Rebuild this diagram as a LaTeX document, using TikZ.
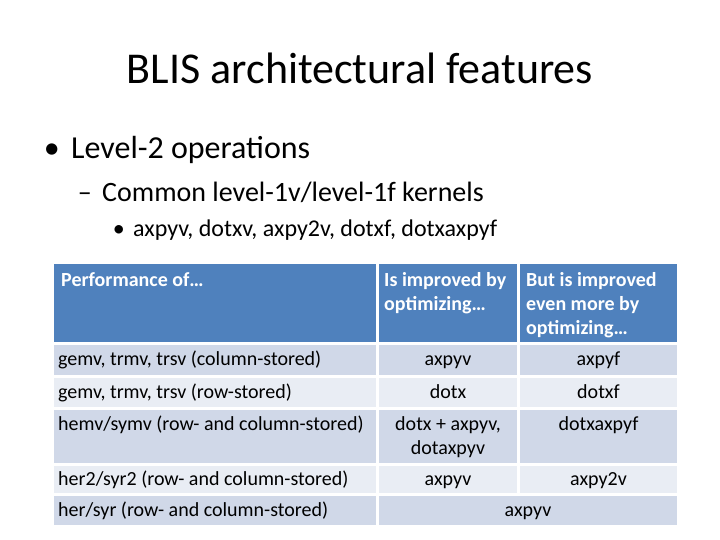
\documentclass[tikz,border=0pt]{standalone}
\usepackage{fontspec}
\setmainfont{Carlito}
\usetikzlibrary{positioning}
\definecolor{hdblue}{HTML}{4F81BD}
\definecolor{rowdark}{HTML}{D0D8E8}
\definecolor{rowlight}{HTML}{E9EDF4}
\tikzset{
  cell/.style={anchor=north west,inner sep=0pt,outer sep=0pt},
  celltext/.style={font=\fontsize{20}{24}\selectfont,inner sep=0pt,anchor=base west,align=left},
  midtext/.style={font=\fontsize{20}{24}\selectfont,inner sep=0pt,anchor=base,align=center},
  hdtext/.style={celltext,font=\fontsize{20}{24}\selectfont\bfseries,text=white}
}
\newcommand{\tabcell}[6]{% name, x, y, w, h, colour
  \node[cell,fill=#6,minimum width=#4pt,minimum height=#5pt] (#1) at (#2,#3) {};}
\begin{document}
\begin{tikzpicture}[x=1pt,y=-1pt]
  \useasboundingbox (0,0) rectangle (720,540);
  % title and bullets
  \node[font=\fontsize{44}{50}\selectfont] (title) at (360,68) {BLIS architectural features};
  \node[font=\fontsize{32}{36}\selectfont,anchor=west,inner sep=0pt] (lev2) at (71,150) {Level-2 operations};
  \node[font=\fontsize{32}{36}\selectfont,anchor=base east,inner sep=0pt] (dot1) at ([xshift=-11pt]lev2.base west) {\textbullet};
  \node[font=\fontsize{28}{32}\selectfont,anchor=west,inner sep=0pt] (kern) at (102,192) {Common level-1v/level-1f kernels};
  \node[font=\fontsize{28}{32}\selectfont,anchor=base east,inner sep=0pt] (dash2) at ([xshift=-10pt]kern.base west) {\textendash};
  \node[font=\fontsize{24}{28}\selectfont,anchor=west,inner sep=0pt] (names) at (133,230) {axpyv, dotxv, axpy2v, dotxf, dotxaxpyf};
  \node[font=\fontsize{24}{28}\selectfont,anchor=base east,inner sep=0pt] (dot3) at ([xshift=-8pt]names.base west) {\textbullet};
  % header row
  \tabcell{h1}{54}{264}{322}{78}{hdblue}
  \tabcell{h2}{379}{264}{138}{78}{hdblue}
  \tabcell{h3}{520}{264}{157}{78}{hdblue}
  % body rows
  \tabcell{a1}{54}{345}{322}{30}{rowdark}
  \tabcell{a2}{379}{345}{138}{30}{rowdark}
  \tabcell{a3}{520}{345}{157}{30}{rowdark}
  \tabcell{b1c}{54}{378}{322}{29}{rowlight}
  \tabcell{b2c}{379}{378}{138}{29}{rowlight}
  \tabcell{b3c}{520}{378}{157}{29}{rowlight}
  \tabcell{c1}{54}{410}{322}{53}{rowdark}
  \tabcell{c2}{379}{410}{138}{53}{rowdark}
  \tabcell{c3}{520}{410}{157}{53}{rowdark}
  \tabcell{d1}{54}{466}{322}{27}{rowlight}
  \tabcell{d2}{379}{466}{138}{27}{rowlight}
  \tabcell{d3}{520}{466}{157}{27}{rowlight}
  \tabcell{e1}{54}{496}{322}{29}{rowdark}
  \tabcell{e2}{379}{496}{298}{29}{rowdark}
  % texts (base = last line)
  \node[hdtext] at ([xshift=7pt,yshift=-22pt]h1.north west) {Performance of…};
  \node[hdtext] at ([xshift=5pt,yshift=-46pt]h2.north west) {Is improved by\\optimizing…};
  \node[hdtext] at ([xshift=6pt,yshift=-70pt]h3.north west) {But is improved\\even more by\\optimizing…};
  \node[celltext] at ([xshift=4pt,yshift=-20pt]a1.north west) {gemv, trmv, trsv (column-stored)};
  \node[midtext] at ([yshift=-20pt]a2.north) {axpyv};
  \node[midtext] at ([yshift=-20pt]a3.north) {axpyf};
  \node[celltext] at ([xshift=4pt,yshift=-20pt]b1c.north west) {gemv, trmv, trsv (row-stored)};
  \node[midtext] at ([yshift=-20pt]b2c.north) {dotx};
  \node[midtext] at ([yshift=-20pt]b3c.north) {dotxf};
  \node[celltext] at ([xshift=4pt,yshift=-20pt]c1.north west) {hemv/symv (row- and column-stored)};
  \node[midtext] at ([yshift=-44pt]c2.north) {dotx + axpyv,\\dotaxpyv};
  \node[midtext] at ([yshift=-20pt]c3.north) {dotxaxpyf};
  \node[celltext] at ([xshift=4pt,yshift=-19pt]d1.north west) {her2/syr2 (row- and column-stored)};
  \node[midtext] at ([yshift=-19pt]d2.north) {axpyv};
  \node[midtext] at ([yshift=-19pt]d3.north) {axpy2v};
  \node[celltext] at ([xshift=4pt,yshift=-20pt]e1.north west) {her/syr (row- and column-stored)};
  \node[midtext] at ([yshift=-20pt]e2.north) {axpyv};
\end{tikzpicture}
\end{document}
